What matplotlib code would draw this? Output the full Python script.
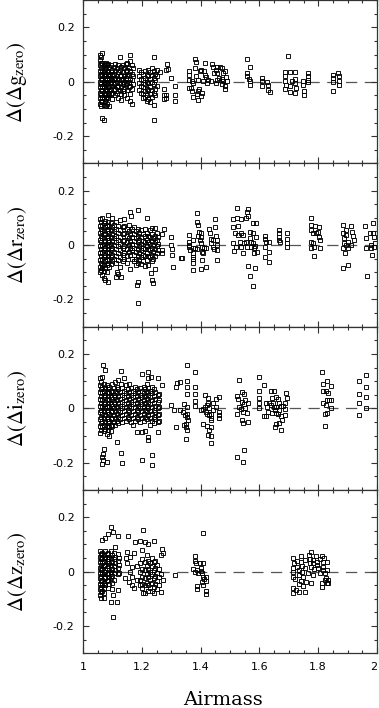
import matplotlib
matplotlib.use("Agg")
import matplotlib.pyplot as plt
from matplotlib.ticker import MultipleLocator, FuncFormatter

plt.rcParams['axes.unicode_minus'] = False
plt.rcParams['mathtext.fontset'] = 'stix'

# ---------------- data: airmass -> list of delta(delta zero-point) ----------------
g_cols = {
    1.058: [0.10, 0.08, 0.06, 0.04, 0.02, 0.0, -0.02, -0.04, -0.06, -0.08],
    1.062: [0.09, 0.07, 0.05, 0.03, 0.01, -0.01, -0.03, -0.05, -0.07, -0.09],
    1.066: [0.105, 0.07, 0.045, 0.025, 0.005, -0.015, -0.035, -0.055, -0.075, -0.133],
    1.070: [0.06, 0.04, 0.02, 0.0, -0.02, -0.04, -0.06, -0.085, -0.139],
    1.074: [0.065, 0.045, 0.03, 0.01, -0.01, -0.03, -0.05, -0.07],
    1.078: [0.07, 0.05, 0.02, -0.005, -0.025, -0.045, -0.065, -0.088],
    1.082: [0.06, 0.035, 0.015, -0.01, -0.03, -0.055, -0.08],
    1.086: [0.065, 0.04, 0.02, 0.0, -0.02, -0.04, -0.06],
    1.090: [0.055, 0.03, 0.01, -0.015, -0.035, -0.05, -0.09],
    1.095: [0.06, 0.035, 0.015, -0.005, -0.025, -0.045],
    1.100: [0.045, 0.025, 0.005, -0.015, -0.04, -0.065],
    1.105: [0.055, 0.03, 0.01, -0.01, -0.03],
    1.110: [0.065, 0.04, 0.015, -0.005, -0.025, -0.05],
    1.115: [0.05, 0.02, 0.0, -0.02, -0.04],
    1.120: [0.06, 0.035, 0.01, -0.015, -0.035, -0.06],
    1.125: [0.09, 0.045, 0.02, -0.005, -0.03],
    1.130: [0.055, 0.025, 0.005, -0.02, -0.045, -0.066],
    1.135: [0.06, 0.035, 0.01, -0.01, -0.035],
    1.140: [0.05, 0.02, 0.0, -0.025, -0.05],
    1.145: [0.065, 0.04, 0.015, -0.01],
    1.150: [0.07, 0.045, 0.02, -0.005, -0.03, -0.06],
    1.155: [0.05, 0.025, 0.0, -0.02],
    1.160: [0.1, 0.075, 0.04, 0.01, -0.015, -0.045, -0.07],
    1.165: [0.06, 0.03, 0.005, -0.025, -0.08],
    1.170: [0.05, 0.02, -0.01],
    1.192: [0.045, 0.02, -0.005, -0.03],
    1.198: [0.035, 0.01, -0.015, -0.04],
    1.204: [0.03, 0.005, -0.02, -0.045, -0.06],
    1.210: [0.04, 0.015, -0.01, -0.035, -0.055],
    1.216: [0.025, 0.0, -0.025, -0.05, -0.07],
    1.222: [0.045, 0.02, -0.005, -0.03, -0.065],
    1.228: [0.035, 0.01, -0.02, -0.045, -0.075],
    1.234: [0.05, 0.025, 0.0, -0.03, -0.055],
    1.240: [0.09, 0.04, 0.015, -0.01, -0.04, -0.085, -0.139],
    1.246: [0.03, 0.005, -0.025, -0.05],
    1.252: [0.045, 0.02, -0.015],
    1.262: [0.036],
    1.275: [-0.025, -0.05, -0.065],
    1.282: [0.043, -0.048, -0.06],
    1.285: [0.066],
    1.289: [0.048],
    1.300: [0.013],
    1.313: [-0.017, -0.05, -0.07],
    1.362: [0.038, 0.026, 0.007, -0.023],
    1.366: [-0.023],
    1.370: [0.001, -0.035],
    1.375: [-0.005, -0.056],
    1.381: [0.083],
    1.384: [0.071, 0.022],
    1.382: [0.05],
    1.387: [-0.044],
    1.392: [-0.068, -0.035, 0.007],
    1.395: [-0.027],
    1.398: [0.038],
    1.400: [-0.051, 0.044],
    1.404: [-0.041],
    1.407: [0.001],
    1.411: [0.041],
    1.415: [0.068, 0.026],
    1.418: [0.017],
    1.423: [-0.005],
    1.426: [0.007],
    1.437: [0.001],
    1.440: [0.066],
    1.443: [0.056],
    1.445: [0.032],
    1.452: [0.044, -0.005],
    1.455: [0.007],
    1.456: [0.056, 0.032],
    1.462: [0.013],
    1.466: [0.054],
    1.472: [0.05, 0.01, -0.007],
    1.477: [0.032, 0.001],
    1.483: [0.038, -0.015, -0.027],
    1.486: [0.017],
    1.489: [0.001],
    1.557: [0.083, 0.032],
    1.559: [0.022],
    1.563: [0.01],
    1.568: [0.056, 0.001, -0.011],
    1.608: [0.013, 0.001, -0.017],
    1.627: [-0.001],
    1.630: [-0.011, -0.029],
    1.636: [-0.038],
    1.687: [0.035, 0.02, 0.001, -0.027],
    1.690: [-0.011],
    1.698: [0.095],
    1.703: [-0.017],
    1.704: [0.035, -0.038],
    1.710: [0.001],
    1.721: [0.034, 0.01, -0.005, -0.041],
    1.723: [-0.023],
    1.749: [-0.011, 0.001],
    1.751: [-0.035, -0.048],
    1.764: [0.032],
    1.766: [0.02, 0.007, -0.002],
    1.851: [0.026, 0.013, -0.002, -0.035],
    1.868: [0.032],
    1.870: [0.02, 0.001, -0.011],
}

r_cols = {
    1.058: [0.095, 0.07, 0.045, 0.02, -0.005, -0.03, -0.055, -0.08, -0.1],
    1.062: [0.085, 0.06, 0.035, 0.01, -0.015, -0.04, -0.065, -0.09],
    1.066: [0.098, 0.075, 0.05, 0.025, 0.0, -0.025, -0.05, -0.075, -0.086, -0.11],
    1.070: [0.08, 0.055, 0.03, 0.005, -0.02, -0.045, -0.07, -0.095, -0.12],
    1.075: [0.09, 0.065, 0.04, 0.015, -0.01, -0.035, -0.06, -0.085, -0.129],
    1.080: [0.075, 0.05, 0.025, 0.0, -0.025, -0.05, -0.075, -0.1],
    1.084: [0.11, 0.085, 0.06, 0.035, 0.01, -0.015, -0.04, -0.065, -0.135],
    1.090: [0.07, 0.045, 0.02, -0.005, -0.03, -0.055, -0.08],
    1.095: [0.08, 0.055, 0.03, 0.005, -0.02, -0.045, -0.07],
    1.100: [0.098, 0.065, 0.04, 0.015, -0.01, -0.035, -0.06],
    1.105: [0.075, 0.05, 0.025, 0.0, -0.025, -0.05],
    1.111: [0.085, 0.06, 0.035, 0.01, -0.015, -0.04, -0.065, -0.116],
    1.114: [-0.098],
    1.120: [0.07, 0.045, 0.02, -0.005, -0.03, -0.055, -0.108],
    1.126: [0.092, 0.055, 0.03, 0.005, -0.02, -0.045, -0.08],
    1.129: [-0.116],
    1.135: [0.065, 0.04, 0.015, -0.01, -0.035, -0.06],
    1.141: [0.096, 0.07, 0.045, 0.02, -0.005, -0.03, -0.05],
    1.148: [0.06, 0.035, 0.01, -0.015, -0.04, -0.065],
    1.155: [0.075, 0.05, 0.025, 0.0, -0.025],
    1.160: [0.123, 0.04, 0.015, -0.01, -0.035, -0.088],
    1.163: [0.108],
    1.168: [0.06, 0.03, 0.005, -0.02, -0.05],
    1.175: [0.067, 0.04, 0.015, -0.01, -0.035, -0.06],
    1.181: [0.05, 0.025, 0.0, -0.025, -0.05, -0.075],
    1.183: [-0.147],
    1.186: [0.129, 0.06, 0.035, 0.01, -0.015, -0.04, -0.065, -0.135, -0.214],
    1.192: [0.045, 0.02, -0.005, -0.03, -0.055],
    1.198: [0.055, 0.03, 0.005, -0.02, -0.045, -0.07],
    1.204: [0.04, 0.015, -0.01, -0.035, -0.06],
    1.211: [0.06, 0.035, 0.01, -0.015, -0.04, -0.076],
    1.217: [0.1, 0.045, 0.02, -0.005, -0.03, -0.055],
    1.222: [0.035, 0.01, -0.015, -0.04, -0.074],
    1.228: [0.055, 0.03, 0.005, -0.02, -0.045],
    1.231: [-0.104],
    1.234: [0.061, 0.04, 0.015, -0.01, -0.035, -0.06],
    1.236: [-0.129],
    1.239: [0.025, 0.0, -0.025, -0.05, -0.141],
    1.245: [0.064, 0.035, 0.01, -0.015, -0.04, -0.088],
    1.250: [0.045, 0.02, -0.005, -0.03],
    1.255: [0.03, 0.005, -0.02],
    1.268: [0.04, -0.018, -0.031],
    1.275: [0.059],
    1.299: [0.031],
    1.300: [0.0],
    1.303: [-0.016],
    1.304: [-0.037],
    1.307: [-0.08],
    1.333: [-0.049],
    1.336: [-0.049],
    1.362: [0.037, 0.012, 0.0, -0.006],
    1.364: [-0.018],
    1.373: [-0.031, -0.043, -0.053, -0.067, -0.092],
    1.375: [0.018, -0.012],
    1.381: [-0.012],
    1.387: [-0.016],
    1.389: [0.119, 0.086],
    1.392: [0.074, 0.033],
    1.395: [0.049],
    1.398: [0.018],
    1.400: [0.043, 0.031, 0.006, -0.088],
    1.404: [-0.006, -0.025, -0.055],
    1.407: [-0.031],
    1.410: [-0.012],
    1.420: [-0.012, -0.08],
    1.430: [0.058],
    1.432: [0.043],
    1.434: [0.021],
    1.437: [0.006],
    1.443: [-0.006, 0.018],
    1.445: [-0.016],
    1.449: [0.096, 0.065],
    1.452: [0.033],
    1.455: [0.018],
    1.457: [0.0, -0.018, -0.055],
    1.509: [0.096, 0.006],
    1.511: [0.065],
    1.513: [-0.021],
    1.517: [0.043],
    1.519: [-0.006],
    1.525: [0.135, 0.098],
    1.528: [0.07, 0.037],
    1.534: [0.012],
    1.536: [-0.006],
    1.539: [0.043, 0.096],
    1.543: [-0.028],
    1.545: [0.037],
    1.547: [0.006],
    1.554: [0.098, 0.012],
    1.557: [-0.006],
    1.559: [0.123],
    1.562: [0.131, 0.107, -0.077],
    1.568: [0.049, 0.025, -0.114],
    1.570: [-0.006],
    1.573: [0.012],
    1.577: [0.082, 0.043, -0.151],
    1.579: [0.006],
    1.581: [-0.012, -0.031],
    1.585: [-0.004, -0.086],
    1.589: [0.08, 0.031],
    1.592: [-0.025],
    1.619: [0.033, 0.021, -0.009, -0.043],
    1.622: [0.012],
    1.634: [-0.027, -0.061, 0.012],
    1.668: [0.055, 0.043, 0.031, 0.018],
    1.670: [0.012],
    1.693: [0.045],
    1.695: [0.021, 0.006, -0.006],
    1.774: [0.098, 0.074, 0.012],
    1.777: [0.055, -0.012],
    1.783: [0.043, 0.006],
    1.785: [-0.006, -0.04],
    1.788: [0.07],
    1.791: [0.045],
    1.799: [0.049],
    1.803: [0.065, 0.031],
    1.805: [0.018],
    1.807: [-0.012],
    1.885: [0.074, 0.043, -0.012, -0.086],
    1.887: [0.025, 0.006],
    1.891: [-0.031],
    1.894: [0.037],
    1.896: [0.0, 0.055],
    1.902: [0.012, -0.012, -0.074],
    1.913: [0.07, 0.0],
    1.916: [0.049],
    1.918: [0.033],
    1.921: [0.018],
    1.959: [0.07],
    1.963: [0.025, -0.012],
    1.965: [-0.114],
    1.976: [0.043],
    1.978: [0.0],
    1.980: [-0.012],
    1.983: [-0.037],
    1.986: [0.08],
    1.988: [0.045],
    1.991: [0.031, -0.006],
    1.994: [0.006],
}

i_cols = {
    1.058: [0.11, 0.085, 0.06, 0.035, 0.01, -0.015, -0.04, -0.065, -0.09],
    1.062: [0.095, 0.07, 0.045, 0.02, -0.005, -0.03, -0.055, -0.08],
    1.066: [0.115, 0.08, 0.055, 0.03, 0.005, -0.02, -0.045, -0.07, -0.179, -0.204],
    1.069: [0.16, -0.167, -0.191],
    1.072: [0.09, 0.065, 0.04, 0.015, -0.01, -0.035, -0.06, -0.085, -0.148],
    1.075: [0.14, 0.075, 0.05, 0.025, 0.0, -0.025, -0.05, -0.075],
    1.080: [0.085, 0.06, 0.035, 0.01, -0.015, -0.04, -0.065, -0.095, -0.198],
    1.085: [0.07, 0.045, 0.02, -0.005, -0.03, -0.055, -0.08],
    1.090: [0.08, 0.055, 0.03, 0.005, -0.02, -0.045, -0.07, -0.1],
    1.095: [0.065, 0.04, 0.015, -0.01, -0.035, -0.06, -0.085],
    1.100: [0.09, 0.06, 0.035, 0.01, -0.015, -0.04, -0.065],
    1.105: [0.075, 0.05, 0.025, 0.0, -0.025, -0.05],
    1.110: [0.095, 0.065, 0.04, 0.015, -0.01, -0.035, -0.06],
    1.114: [-0.123],
    1.115: [0.08, 0.055, 0.03, 0.005, -0.02, -0.045],
    1.120: [0.105, 0.07, 0.045, 0.02, -0.005, -0.03, -0.055],
    1.125: [0.06, 0.035, 0.01, -0.015, -0.04],
    1.129: [0.136, 0.09, -0.163],
    1.134: [0.075, 0.05, 0.025, 0.0, -0.025, -0.05, -0.201],
    1.140: [0.11, 0.065, 0.04, 0.015, -0.01, -0.035],
    1.146: [0.085, 0.055, 0.03, 0.005, -0.02, -0.045],
    1.152: [0.07, 0.045, 0.02, -0.005, -0.03],
    1.158: [0.09, 0.06, 0.035, 0.01, -0.015, -0.04],
    1.164: [0.075, 0.05, 0.025, 0.0, -0.025, -0.05],
    1.170: [0.065, 0.04, 0.015, -0.01, -0.035, -0.06],
    1.176: [0.08, 0.055, 0.03, 0.005, -0.02, -0.045],
    1.182: [0.07, 0.045, 0.02, -0.005, -0.03, -0.086],
    1.188: [0.06, 0.035, 0.01, -0.015, -0.04],
    1.194: [0.075, 0.05, 0.025, 0.0, -0.025, -0.05],
    1.200: [0.127, 0.065, 0.04, 0.015, -0.01, -0.035, -0.086, -0.191],
    1.206: [0.08, 0.055, 0.03, 0.005, -0.02, -0.045],
    1.211: [0.07, 0.045, 0.02, -0.005, -0.03, -0.084],
    1.216: [0.09, 0.06, 0.035, 0.01, -0.015, -0.04],
    1.220: [0.111, -0.105],
    1.222: [0.132, 0.075, 0.05, 0.025, 0.0, -0.025, -0.117],
    1.228: [0.065, 0.04, 0.015, -0.01, -0.035, -0.06],
    1.231: [0.115],
    1.234: [0.08, 0.055, 0.03, 0.005, -0.02, -0.045],
    1.236: [-0.173, -0.207],
    1.240: [0.07, 0.045, 0.02, -0.005, -0.03, -0.055],
    1.246: [0.06, 0.035, 0.01, -0.015, -0.04],
    1.254: [0.111, 0.05, 0.025, 0.0, -0.025, -0.05],
    1.256: [-0.086],
    1.260: [0.053, 0.03, 0.005, -0.02, -0.045],
    1.268: [0.086],
    1.300: [0.012],
    1.310: [-0.006],
    1.315: [-0.068],
    1.316: [0.08],
    1.320: [0.093],
    1.330: [0.095, -0.006],
    1.341: [-0.012],
    1.344: [0.016, -0.062],
    1.347: [-0.025],
    1.350: [-0.114],
    1.352: [-0.056, -0.068],
    1.355: [0.158, 0.102, 0.078, 0.052, 0.006, -0.021, -0.033, -0.08],
    1.358: [-0.041],
    1.381: [0.132, 0.078, 0.053, 0.028, 0.009],
    1.400: [-0.006],
    1.409: [-0.004, -0.058],
    1.415: [0.049, 0.006],
    1.418: [-0.012],
    1.423: [0.012, -0.019, -0.065],
    1.426: [0.037, 0.019, -0.099],
    1.430: [0.0, -0.025, -0.08],
    1.434: [-0.037],
    1.437: [-0.043, -0.019, -0.07, -0.101, -0.127],
    1.443: [-0.006, 0.021],
    1.452: [0.035, 0.006],
    1.461: [-0.012, -0.025, -0.037],
    1.464: [0.04],
    1.523: [0.044, -0.021],
    1.525: [-0.179],
    1.528: [0.033],
    1.532: [0.105, 0.004],
    1.536: [-0.004],
    1.540: [0.059, 0.025, -0.043],
    1.543: [-0.053, -0.198],
    1.545: [-0.012],
    1.548: [0.053, 0.016, -0.152],
    1.551: [0.0, 0.031],
    1.559: [-0.016],
    1.562: [0.019, -0.049],
    1.598: [0.037],
    1.600: [0.117, 0.062, 0.021, 0.002],
    1.615: [0.086, -0.028],
    1.623: [-0.028, 0.021],
    1.626: [0.006],
    1.629: [-0.012],
    1.632: [0.021],
    1.638: [0.012],
    1.641: [0.065],
    1.643: [0.037, -0.016],
    1.645: [0.021],
    1.649: [0.064, 0.006],
    1.652: [-0.006, -0.07],
    1.655: [0.043],
    1.657: [-0.016, 0.006, -0.058],
    1.664: [0.033, -0.019],
    1.666: [-0.006, -0.053],
    1.668: [0.021],
    1.672: [0.009, -0.028, -0.078],
    1.678: [-0.041],
    1.680: [0.009],
    1.687: [0.021, -0.004, -0.025],
    1.692: [0.056],
    1.695: [0.037],
    1.812: [0.133],
    1.815: [0.089, 0.064, 0.019],
    1.823: [-0.021, -0.065],
    1.827: [0.062, 0.012],
    1.829: [0.031],
    1.831: [0.099, -0.016],
    1.835: [0.056],
    1.838: [0.031],
    1.842: [0.083, 0.031, 0.0],
    1.940: [0.099, 0.052, 0.019, -0.025],
    1.962: [0.123, 0.077, 0.043, 0.0],
}

z_cols = {
    1.058: [0.075, 0.055, 0.035, 0.015, -0.005, -0.025, -0.045, -0.065, -0.085],
    1.062: [0.065, 0.045, 0.025, 0.005, -0.015, -0.035, -0.055, -0.075, -0.095],
    1.064: [0.116],
    1.066: [0.07, 0.05, 0.03, 0.01, -0.01, -0.03, -0.05, -0.07],
    1.070: [0.06, 0.04, 0.02, 0.0, -0.02, -0.04, -0.06, -0.08],
    1.072: [-0.098],
    1.075: [0.122, 0.075, 0.05, 0.025, 0.0, -0.025, -0.05],
    1.080: [0.065, 0.04, 0.015, -0.01, -0.035],
    1.086: [0.138, 0.07, 0.045, 0.02, -0.005, -0.03, -0.06],
    1.090: [0.055, 0.03, 0.005, -0.02, -0.045],
    1.095: [0.165, 0.075, 0.05, 0.025, 0.0, -0.025, -0.11],
    1.100: [0.06, 0.035, 0.01, -0.015, -0.04, -0.065],
    1.103: [0.147, -0.086, -0.165],
    1.106: [0.07, 0.045, 0.02, -0.005, -0.03],
    1.110: [0.09, 0.055, 0.03, 0.005],
    1.114: [-0.11],
    1.118: [0.131, 0.065, 0.04, 0.015, -0.01, -0.067],
    1.124: [0.05, 0.025, -0.005],
    1.143: [-0.025],
    1.145: [0.049],
    1.149: [0.074, 0.031],
    1.152: [0.131],
    1.155: [-0.037],
    1.160: [0.055, 0.0],
    1.168: [0.018, -0.018, -0.049],
    1.175: [0.067, -0.061],
    1.177: [0.11],
    1.185: [0.02, -0.03],
    1.194: [0.113, 0.03, 0.0, -0.03, -0.05],
    1.200: [0.08, 0.045, 0.01, -0.02, -0.045, -0.06],
    1.205: [0.153, -0.08],
    1.211: [0.11, 0.035, 0.005, -0.025, -0.05, -0.08],
    1.216: [0.06, 0.02, -0.01, -0.04],
    1.222: [0.102, 0.04, 0.01, -0.02, -0.05, -0.07],
    1.228: [0.03, 0.0, -0.03, -0.06],
    1.234: [0.05, 0.02, -0.01, -0.04, -0.07],
    1.240: [0.035, 0.005, -0.025, -0.055, -0.08],
    1.243: [0.113],
    1.246: [0.04, 0.015, -0.015, -0.045],
    1.252: [0.025, -0.005, -0.035, -0.065],
    1.258: [0.01, -0.02, -0.05],
    1.264: [0.06, -0.01, -0.075],
    1.268: [0.082],
    1.272: [0.067, -0.03],
    1.313: [-0.012],
    1.375: [0.009],
    1.381: [0.058, 0.04, 0.0],
    1.384: [0.031],
    1.387: [0.006, -0.053, -0.065],
    1.392: [-0.004],
    1.398: [0.033],
    1.400: [0.012, 0.004],
    1.404: [-0.006, -0.037],
    1.407: [-0.018],
    1.409: [0.141, 0.033, -0.049],
    1.411: [-0.028],
    1.418: [-0.021, -0.033, -0.07, -0.082],
    1.713: [0.012, -0.021, -0.061],
    1.715: [0.049, 0.0, -0.077],
    1.717: [0.031],
    1.721: [-0.028],
    1.724: [-0.067],
    1.727: [0.04],
    1.729: [0.018],
    1.733: [0.006, -0.012, -0.045],
    1.736: [-0.074],
    1.740: [0.058, 0.037, -0.033],
    1.744: [0.021, 0.0],
    1.747: [-0.053],
    1.749: [-0.018],
    1.755: [0.043, 0.012, -0.074],
    1.758: [-0.037],
    1.766: [-0.006],
    1.770: [0.061],
    1.772: [0.045, 0.031],
    1.774: [0.016],
    1.777: [0.074, -0.04],
    1.781: [0.043, -0.012],
    1.783: [0.031],
    1.785: [0.009],
    1.793: [0.058],
    1.795: [0.037],
    1.797: [0.025],
    1.801: [0.012],
    1.805: [0.045],
    1.807: [-0.006],
    1.812: [0.058, -0.04, -0.058],
    1.815: [0.037, 0.018],
    1.818: [0.006],
    1.820: [0.049],
    1.823: [-0.006, -0.031],
    1.827: [-0.025],
    1.829: [0.037],
    1.831: [0.006, -0.043],
    1.834: [-0.031, -0.043],
}

panel_labels = [r'$\Delta(\Delta\mathrm{g}_{\mathrm{zero}})$',
                r'$\Delta(\Delta\mathrm{r}_{\mathrm{zero}})$',
                r'$\Delta(\Delta\mathrm{i}_{\mathrm{zero}})$',
                r'$\Delta(\Delta\mathrm{z}_{\mathrm{zero}})$']
x_ticks = [1.0, 1.2, 1.4, 1.6, 1.8, 2.0]
y_ticks = [-0.2, 0.0, 0.2]
x_label = 'Airmass'


def expand(cols):
    xs, ys = [], []
    for x, vals in cols.items():
        for v in vals:
            xs.append(x)
            ys.append(v)
    return xs, ys


W, H = 379, 708
fig = plt.figure(figsize=(W / 100, H / 100), dpi=100)
left = 83 / W
width = (377 - 83) / W
ph = 163.3 / H
bottom0 = 1 - 653.3 / H

fmt = FuncFormatter(lambda v, p: '%g' % round(v, 3))
panels = [g_cols, r_cols, i_cols, z_cols]
for k, cols in enumerate(panels):
    b = bottom0 + (3 - k) * ph
    ax = fig.add_axes([left, b, width, ph])
    xs, ys = expand(cols)
    ax.plot(xs, ys, linestyle='none', marker='s', markersize=3.4,
            markerfacecolor='none', markeredgecolor='black', markeredgewidth=0.65)
    ax.axhline(0, color='#555555', lw=0.9, dashes=(9, 6), zorder=0)
    ax.set_xlim(1.0, 2.0)
    ax.set_ylim(-0.3, 0.3)
    ax.set_xticks(x_ticks)
    ax.set_yticks(y_ticks)
    ax.xaxis.set_minor_locator(MultipleLocator(0.05))
    ax.yaxis.set_minor_locator(MultipleLocator(0.05))
    ax.yaxis.set_major_formatter(fmt)
    ax.xaxis.set_major_formatter(fmt)
    ax.tick_params(which='both', direction='in', top=True, right=True,
                   width=0.8, color='#333333', labelsize=8)
    ax.tick_params(which='major', length=4.5)
    ax.tick_params(which='minor', length=2.5)
    ax.tick_params(axis='y', pad=6)
    ax.tick_params(axis='x', pad=6)
    for s in ax.spines.values():
        s.set_linewidth(0.9)
        s.set_color('#333333')
    if k < 3:
        ax.tick_params(labelbottom=False)
    else:
        fig.canvas.draw()
        ax.get_xticklabels()[-1].set_horizontalalignment('right')
    ax.set_ylabel(panel_labels[k], fontsize=15)
    ax.yaxis.set_label_coords(-0.185, 0.5)

fig.text(223 / W, 1 - 700 / H, x_label, ha='center', va='center',
         fontsize=14, family='DejaVu Serif')

fig.savefig('out.png', dpi=100)
